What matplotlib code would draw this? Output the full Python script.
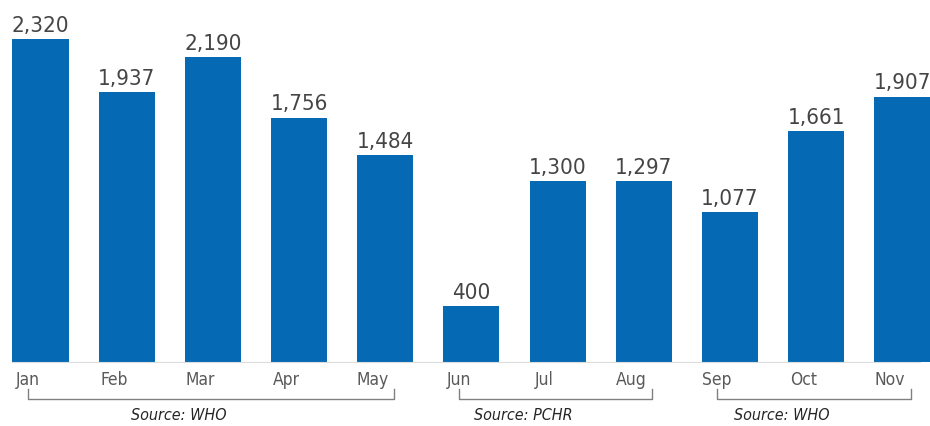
import matplotlib.pyplot as plt
import matplotlib.transforms as mtransforms
import numpy as np

plt.rcParams['font.family'] = ['DejaVu Sans']

months = ['Jan', 'Feb', 'Mar', 'Apr', 'May', 'Jun', 'Jul', 'Aug', 'Sep', 'Oct', 'Nov']
values = [2320, 1937, 2190, 1756, 1484, 400, 1300, 1297, 1077, 1661, 1907]
groups = [('Source: WHO', 0, 4), ('Source: PCHR', 5, 7), ('Source: WHO', 8, 10)]

bar_color = '#0569b4'

fig = plt.figure(figsize=(9.3, 4.27), dpi=100)
ax = fig.add_axes([0, 0.15, 1, 0.85])

x = np.arange(len(months))
ax.bar(x, values, width=0.65, color=bar_color)

# value labels above the bars
for xi, v in zip(x, values):
    ax.annotate(f'{v:,}', (xi, v), xytext=(0, 3), textcoords='offset points',
                ha='center', va='bottom', fontsize=16, color='#454545',
                fontstretch='condensed')

ax.set_xlim(-0.47, 10.32)
ax.set_ylim(0, 2608)

for s in ['top', 'right', 'left']:
    ax.spines[s].set_visible(False)
ax.spines['bottom'].set_color('#dcdcdc')
ax.spines['bottom'].set_bounds(-0.33, 10.2)
ax.set_yticks([])
ax.set_xticks([])

trans = mtransforms.blended_transform_factory(ax.transData, ax.transAxes)
for xi, m in zip(x, months):
    ax.text(xi - 0.15, -0.048, m, transform=trans, ha='center', va='center',
            fontsize=12.5, color='#5a5a5a', fontstretch='condensed')

# brackets showing the data source
for label, a, b in groups:
    x0, x1 = a - 0.15, b + 0.1
    ax.plot([x0, x0, x1, x1], [-0.074, -0.102, -0.102, -0.074], transform=trans,
            color='#808080', lw=1, clip_on=False)
    ax.text((x0 + x1) / 2 - 0.37, -0.145, label, transform=trans, ha='center',
            va='center', fontsize=11.5, style='italic', color='#262626',
            fontstretch='condensed')

fig.savefig('out.png', dpi=100)
